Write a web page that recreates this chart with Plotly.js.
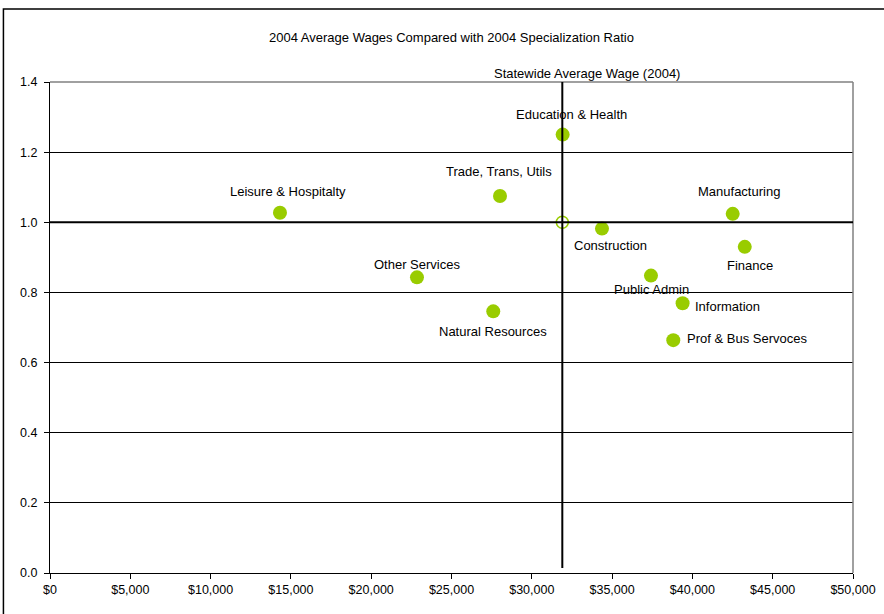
<!DOCTYPE html>
<html>
<head>
<meta charset="utf-8">
<script src="https://cdn.plot.ly/plotly-3.0.1.min.js"></script>
<style>html,body{margin:0;padding:0;background:#fff;}#chart{width:884px;height:614px;}</style>
</head>
<body>
<div id="chart"></div>
<script>
const sectors = ["Education & Health","Trade, Trans, Utils","Leisure & Hospitalty","Other Services","Natural Resources","Construction","Manufacturing","Finance","Public Admin","Information","Prof & Bus Servoces"];
const wages = [31920, 28020, 14320, 22850, 27600, 34370, 42510, 43260, 37420, 39390, 38810];
const ratios = [1.250, 1.075, 1.027, 0.843, 0.746, 0.982, 1.024, 0.930, 0.848, 0.769, 0.664];
const statewideWage = [31900];
const statewideRatio = [1.0];
const xTicks = [0,5000,10000,15000,20000,25000,30000,35000,40000,45000,50000];
const yTicks = [0,0.2,0.4,0.6,0.8,1.0,1.2,1.4];

// label offsets in pixels (style only)
const labelShift = [[9,-20],[-1,-24],[8,-21],[0,-13],[0,20],[9,17],[6,-22],[5,19],[1,14],[45,3],[74,-2]];

const font = {family: "Liberation Sans, Arial, sans-serif", size: 13, color: "#000"};
const tickFont = {family: "Liberation Sans, Arial, sans-serif", size: 12.5, color: "#000"};
const green = "#99CC00";

const traces = [
  {x: wages, y: ratios, type: "scatter", mode: "markers",
   marker: {size: 14, color: green, line: {width: 0}}, hoverinfo: "text", text: sectors},
  {x: statewideWage, y: statewideRatio, type: "scatter", mode: "markers",
   marker: {size: 12, color: "rgba(0,0,0,0)", line: {width: 1.5, color: green}}}
];

const annotations = sectors.map((s, i) => ({
  x: wages[i], y: ratios[i], text: s, showarrow: false,
  xshift: labelShift[i][0], yshift: -labelShift[i][1], font: font
}));
annotations.push({x: statewideWage[0], y: 1, xref: "x", yref: "paper", yanchor: "bottom",
  text: "Statewide Average Wage (2004)", showarrow: false, xshift: 25, yshift: -1, font: font});

const layout = {
  width: 884, height: 614,
  margin: {l: 50, r: 31, t: 82, b: 41},
  paper_bgcolor: "#fff", plot_bgcolor: "#fff",
  showlegend: false,
  font: font,
  title: {text: "2004 Average Wages Compared with 2004 Specialization Ratio", font: font,
          x: 0.5, xref: "paper", xanchor: "center", y: 1 - 37/614, yanchor: "middle"},
  xaxis: {range: [0, 50000], tickvals: xTicks, ticktext: xTicks.map(v => "$" + v.toLocaleString("en-US")),
          showgrid: false, zeroline: false, showline: true, linecolor: "#000", linewidth: 1,
          ticks: "outside", ticklen: 5, tickcolor: "#000", tickfont: tickFont, fixedrange: true},
  yaxis: {range: [0, 1.4], tickvals: yTicks, tickformat: ".1f",
          showgrid: true, gridcolor: "#000", gridwidth: 1, zeroline: false,
          showline: true, linecolor: "#000", linewidth: 1, ticklabelstandoff: 4,
          ticks: "outside", ticklen: 5, tickcolor: "#000", tickfont: tickFont, fixedrange: true},
  shapes: [
    {type: "line", xref: "paper", yref: "paper", x0: 0, x1: 1, y0: 1, y1: 1, line: {color: "#808080", width: 1.5}},
    {type: "line", xref: "paper", yref: "paper", x0: 1, x1: 1, y0: 0, y1: 1, line: {color: "#808080", width: 1.5}},
    {type: "line", xref: "paper", yref: "y", x0: 0, x1: 1, y0: statewideRatio[0], y1: statewideRatio[0], line: {color: "#000", width: 2}},
    {type: "line", xref: "x", yref: "paper", x0: statewideWage[0], x1: statewideWage[0], y0: 0.01, y1: 1, line: {color: "#000", width: 2}},
    {type: "rect", xref: "paper", yref: "paper", x0: -0.058, x1: 1.06, y0: -0.1, y1: 1.1487, line: {color: "#000", width: 1.5}, layer: "below"}
  ],
  annotations: annotations
};

Plotly.newPlot("chart", traces, layout, {displayModeBar: false, staticPlot: true});
</script>
</body>
</html>
